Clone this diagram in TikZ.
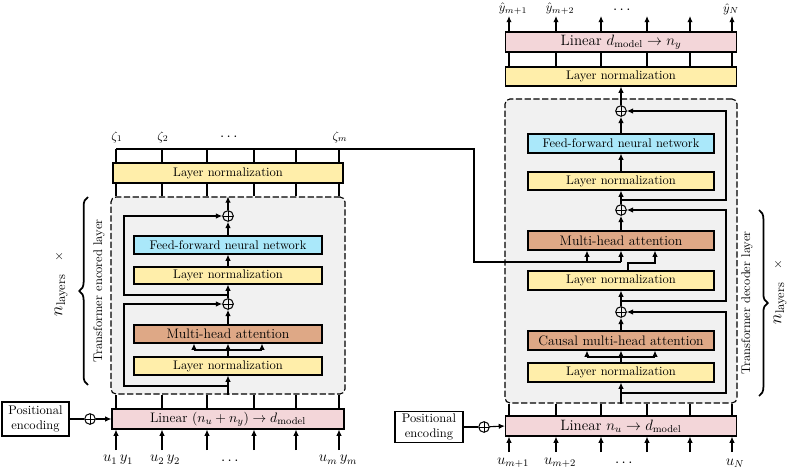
\documentclass[tikz,border=0pt]{standalone}
\usepackage{amsmath}
\usetikzlibrary{arrows.meta,decorations.pathreplacing}
\definecolor{lnyel}{RGB}{255,238,170}
\definecolor{mhabrown}{RGB}{222,168,134}
\definecolor{ffncyan}{RGB}{170,232,250}
\definecolor{linpink}{RGB}{243,214,217}
\definecolor{boxgray}{RGB}{241,241,241}
\tikzset{
	blk/.style={draw, line width=0.9pt, inner sep=0pt, align=center},
	lnorm/.style={blk, fill=lnyel},
	mha/.style={blk, fill=mhabrown, font=\fontsize{11}{13}\selectfont},
	ffn/.style={blk, fill=ffncyan},
	lin/.style={blk, fill=linpink, font=\large},
	penc/.style={blk, fill=white},
	sz/.style 2 args={minimum width=#1*0.8pt, minimum height=#2*0.8pt},
	layerbg/.style={draw, dash pattern=on 5pt off 2pt, rounded corners=4pt, fill=boxgray, line width=0.9pt},
	plus/.style={circle, draw, line width=0.8pt, minimum size=8.5pt, inner sep=0pt,
		path picture={\draw[line width=0.4pt] (path picture bounding box.north) -- (path picture bounding box.south)
			(path picture bounding box.west) -- (path picture bounding box.east);}},
	wire/.style={line width=0.9pt},
	arr/.style={wire, -{Latex[length=5pt,width=4.4pt]}},
	lbrace/.style={decorate, decoration={brace, amplitude=7pt}, line width=1.4pt},
}
\begin{document}
\begin{tikzpicture}[x=0.8pt, y=-0.8pt]
	\useasboundingbox (0,0) rectangle (789,471);
	% encoder
	\node[layerbg, sz={234}{197}] (layE) at (228,295.5) {};
	\node[lin, sz={232}{20}, font=\fontsize{11}{13}\selectfont] (linE) at (228,419) {Linear $(n_u+n_y)\to d_{\mathrm{model}}$};
	\node[lnorm, sz={230}{20}] (lnEo) at (228,173) {Layer normalization};
	\node[lnorm, sz={188}{18}] (lnE1) at (228,366) {Layer normalization};
	\node[mha, sz={188}{18}] (mhaE) at (228,334) {Multi-head attention};
	\node[plus] (addE1) at (228,304) {};
	\node[lnorm, sz={188}{17}] (lnE2) at (228,275.5) {Layer normalization};
	\node[ffn, sz={188}{18}] (ffnE) at (228,245) {Feed-forward neural network};
	\node[plus] (addE2) at (228,216) {};
	\node[penc, sz={67}{34}] (peE) at (35.5,419) {Positional\\encoding};
	\node[plus] (addPE) at (90,419) {};
	\coordinate (skE) at (124,0);
	\coordinate (rE1) at (228,386);
	\coordinate (rE2) at (228,295);
	\coordinate (kE) at (194,350);
	\coordinate (vE) at (262,350);
	\draw[arr] (layE.south) -- (lnE1.south);
	\draw[arr] (rE1) -- (rE1 -| skE) -- (addE1 -| skE) -- (addE1.west);
	\draw[arr] (lnE1.north) -- (mhaE.south);
	\draw[wire] (kE) -- (vE);
	\draw[arr] (kE) -- (kE |- mhaE.south);
	\draw[arr] (vE) -- (vE |- mhaE.south);
	\draw[arr] (mhaE.north) -- (addE1.south);
	\draw[arr] (addE1.north) -- (lnE2.south);
	\draw[arr] (rE2) -- (rE2 -| skE) -- (addE2 -| skE) -- (addE2.west);
	\draw[arr] (lnE2.north) -- (ffnE.south);
	\draw[arr] (ffnE.north) -- (addE2.south);
	\draw[arr] (addE2.north) -- (layE.north);
	\draw[wire] (peE) -- (addPE);
	\draw[arr] (addPE) -- (linE.west);
	\foreach \x in {116,162,207,254,296,339} {
		\draw[arr] (\x,450) -- (\x,0 |- linE.south);
		\draw[wire] (\x,0 |- linE.north) -- (\x,0 |- layE.south);
		\draw[wire] (\x,0 |- layE.north) -- (\x,0 |- lnEo.south);
		\draw[wire] (\x,0 |- lnEo.north) -- (\x,149);
	}
	\node (uE1) at (118,460) {\large$u_1\,y_1$};
	\node (uE2) at (165,460) {\large$u_2\,y_2$};
	\node (uEd) at (231,461) {\large$\cdots$};
	\node (uEm) at (338,460) {\large$u_m\,y_m$};
	\node (zE1) at (117,137) {$\zeta_1$};
	\node (zE2) at (163,137) {$\zeta_2$};
	\node (zEd) at (230,137) {\large$\cdots$};
	\node (zEm) at (340,137) {$\zeta_m$};
	% decoder
	\node[layerbg, sz={232}{304}] (layD) at (621,251) {};
	\node[lin, sz={231}{20}] (linD) at (621,426) {Linear $n_u\to d_{\mathrm{model}}$};
	\node[lnorm, sz={186}{19}] (lnD1) at (621,372.5) {Layer normalization};
	\node[mha, sz={186}{19}] (cmhaD) at (621,340.5) {Causal multi-head attention};
	\node[plus] (addD1) at (621,312) {};
	\node[lnorm, sz={186}{19}] (lnD2) at (621,280.5) {Layer normalization};
	\node[mha, sz={186}{19}] (mhaD) at (621,240.5) {Multi-head attention};
	\node[plus] (addD2) at (621,210) {};
	\node[lnorm, sz={186}{18}] (lnD3) at (621,181) {Layer normalization};
	\node[ffn, sz={186}{19}] (ffnD) at (621,143.5) {Feed-forward neural network};
	\node[plus] (addD3) at (621,111) {};
	\node[lnorm, sz={231}{19}] (lnDo) at (621,76.5) {Layer normalization};
	\node[lin, sz={231}{20}] (linDo) at (621,42) {Linear $d_{\mathrm{model}}\to n_y$};
	\node[penc, sz={68}{31}] (peD) at (429,427) {Positional\\encoding};
	\node[plus] (addPD) at (484,427) {};
	\coordinate (skD) at (726,0);
	\coordinate (rD1) at (621,393);
	\coordinate (rD2) at (621,301);
	\coordinate (rD3) at (621,200);
	\coordinate (kD) at (587,357);
	\coordinate (vD) at (655,357);
	\coordinate (lnOut) at (628,263);
	\coordinate (qD) at (655,263);
	\coordinate (encA) at (474,149);
	\coordinate (encB) at (474,262);
	\coordinate (encK) at (587,262);
	\coordinate (encV) at (621,262);
	\draw[arr] (layD.south) -- (lnD1.south);
	\draw[arr] (rD1) -- (rD1 -| skD) -- (addD1 -| skD) -- (addD1.east);
	\draw[arr] (lnD1.north) -- (cmhaD.south);
	\draw[wire] (kD) -- (vD);
	\draw[arr] (kD) -- (kD |- cmhaD.south);
	\draw[arr] (vD) -- (vD |- cmhaD.south);
	\draw[arr] (cmhaD.north) -- (addD1.south);
	\draw[arr] (addD1.north) -- (lnD2.south);
	\draw[arr] (rD2) -- (rD2 -| skD) -- (addD2 -| skD) -- (addD2.east);
	\draw[arr] (lnOut |- lnD2.north) -- (lnOut) -- (qD) -- (qD |- mhaD.south);
	\draw[wire] (116,149) -- (encA) -- (encB) -- (encV);
	\draw[arr] (encK) -- (encK |- mhaD.south);
	\draw[arr] (encV) -- (encV |- mhaD.south);
	\draw[arr] (mhaD.north) -- (addD2.south);
	\draw[arr] (addD2.north) -- (lnD3.south);
	\draw[arr] (rD3) -- (rD3 -| skD) -- (addD3 -| skD) -- (addD3.east);
	\draw[arr] (lnD3.north) -- (ffnD.south);
	\draw[arr] (ffnD.north) -- (addD3.south);
	\draw[arr] (addD3.north) -- (lnDo.south);
	\draw[wire] (peD) -- (addPD);
	\draw[arr] (addPD) -- (linD.west);
	\foreach \x in {509,556,601,647,690,732} {
		\draw[arr] (\x,452) -- (\x,0 |- linD.south);
		\draw[wire] (\x,0 |- linD.north) -- (\x,0 |- layD.south);
		\draw[wire] (\x,0 |- lnDo.north) -- (\x,0 |- linDo.south);
		\draw[arr] (\x,0 |- linDo.north) -- (\x,16);
	}
	\node (uD1) at (513,463) {\large$u_{m+1}$};
	\node (uD2) at (560,463) {\large$u_{m+2}$};
	\node (uDd) at (625,463) {\large$\cdots$};
	\node (uDN) at (735,463) {\large$u_N$};
	\node[inner sep=1pt] (yD1) at (513,9) {$\hat{y}_{m+1}$};
	\node[inner sep=1pt] (yD2) at (560,9) {$\hat{y}_{m+2}$};
	\node[inner sep=1pt] (yDd) at (623,10) {\large$\cdots$};
	\node[inner sep=1pt] (yDN) at (731,9) {$\hat{y}_N$};
	%accolades
	\draw[lbrace] (88,385) -- (88,197);
	\node[rotate=90] (encLbl) at (99,291) {Transformer encored layer};
	\node[rotate=90] (nlE) at (61,284) {{\Large$n_{\mathrm{layers}}$}\quad$\times$};
	\draw[lbrace] (759,210) -- (759,396);
	\node[rotate=90] (decLbl) at (747,303) {Transformer decoder layer};
	\node[rotate=90] (nlD) at (780,292) {{\Large$n_{\mathrm{layers}}$}\quad$\times$};
\end{tikzpicture}
\end{document}
